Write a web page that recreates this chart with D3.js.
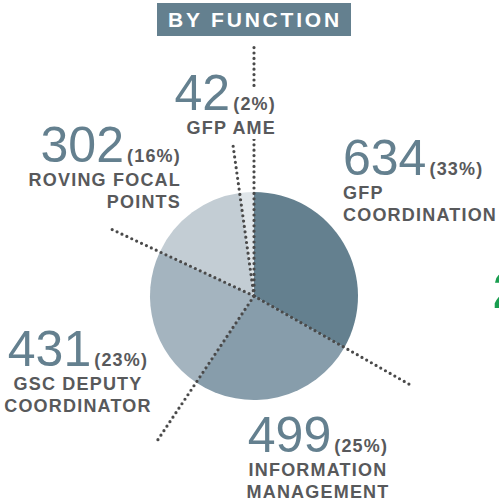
<html>
<head>
<meta charset="utf8">
<title> by function </title>
<style>
body { margin:0; background-color:white; }
svg { display:block; }
</style>
<script src="https://d3js.org/d3.v7.min.js"></script>
</head>
<body>
<div id="chart"></div>
<script>

// data
var values = [634, 499, 431, 302, 42];
var percents = ["33%", "25%", "23%", "16%", "2%"];
var labels = [["GFP", "COORDINATION"], ["INFORMATION", "MANAGEMENT"], ["GSC DEPUTY", "COORDINATOR"], ["ROVING FOCAL", "POINTS"], ["GFP AME"]];
var colors = ["#64808f", "#879dab", "#a4b4bf", "#c3cdd4", "#dfe5e9"];

var width = 499;
var height = 501;
var cx = 254, cy = 296; // pie center
var radius = 104;

// dotted line length from the center, one per slice start
var lineLen = [252, 182, 178, 157, 154];

// label blocks: x, anchor, baseline of the big number
var labelPos = [
  { x: 343, anchor: "start",  y: 175 },
  { x: 318, anchor: "middle", y: 452 },
  { x: 78,  anchor: "middle", y: 366 },
  { x: 181, anchor: "end",    y: 162 },
  { x: 276, anchor: "end",    y: 110 }
];

var svg = d3.select("#chart").append("svg")
  .attr("width", width)
  .attr("height", height);

// title box
svg.append("rect")
  .attr("x", 157).attr("y", 3)
  .attr("width", 194).attr("height", 33)
  .attr("fill", "#64808f");

svg.append("text")
  .attr("x", 255).attr("y", 27)
  .attr("text-anchor", "middle")
  .attr("font-family", "Liberation Sans, Arial, sans-serif")
  .attr("font-weight", "bold")
  .attr("font-size", 21)
  .attr("letter-spacing", 2.8)
  .attr("fill", "white")
  .text("BY FUNCTION");

// pie
var pie = d3.pie().sort(null).value(function(d) { return d; });
var arcs = pie(values);
var arc = d3.arc().innerRadius(0).outerRadius(radius);

var g = svg.append("g").attr("transform", "translate(" + cx + "," + cy + ")");

g.selectAll("path.slice")
  .data(arcs)
  .enter().append("path")
  .attr("class", "slice")
  .attr("d", arc)
  .attr("fill", function(d, i) { return colors[i]; });

// dotted lines on slice borders
g.selectAll("line.lead")
  .data(arcs)
  .enter().append("line")
  .attr("class", "lead")
  .attr("x1", 0).attr("y1", 0)
  .attr("x2", function(d, i) { return Math.sin(d.startAngle) * lineLen[i]; })
  .attr("y2", function(d, i) { return -Math.cos(d.startAngle) * lineLen[i]; })
  .attr("stroke", "#4a4a4a")
  .attr("stroke-width", 3.2)
  .attr("stroke-linecap", "round")
  .attr("stroke-dasharray", "0,5.4");

// the small label sits over the top line: knock the line out behind it
svg.append("rect")
  .attr("x", 228).attr("y", 89)
  .attr("width", 50).attr("height", 50)
  .attr("fill", "white");

// labels
for (var i = 0; i < values.length; i++) {
  var p = labelPos[i];
  var t = svg.append("text")
    .attr("x", p.x).attr("y", p.y)
    .attr("text-anchor", p.anchor)
    .attr("font-family", "Liberation Sans, Arial, sans-serif");

  t.append("tspan")
    .attr("font-size", 50)
    .attr("fill", "#64808f")
    .text(values[i]);

  t.append("tspan")
    .attr("dx", 3)
    .attr("font-size", 18)
    .attr("font-weight", "bold")
    .attr("letter-spacing", 1.2)
    .attr("fill", "#58595b")
    .text("(" + percents[i] + ")");

  for (var j = 0; j < labels[i].length; j++) {
    svg.append("text")
      .attr("x", p.x).attr("y", p.y + 24 + j * 21.5)
      .attr("text-anchor", p.anchor)
      .attr("font-family", "Liberation Sans, Arial, sans-serif")
      .attr("font-weight", "bold")
      .attr("font-size", 18)
      .attr("letter-spacing", 1.2)
      .attr("fill", "#58595b")
      .text(labels[i][j]);
  }
}

// cut-off glyph of the next panel
svg.append("text")
  .attr("x", 493).attr("y", 308)
  .attr("font-family", "Liberation Sans, Arial, sans-serif")
  .attr("font-weight", "bold")
  .attr("font-size", 50)
  .attr("fill", "#1a9e50")
  .text("2");

</script>
</body>
</html>
